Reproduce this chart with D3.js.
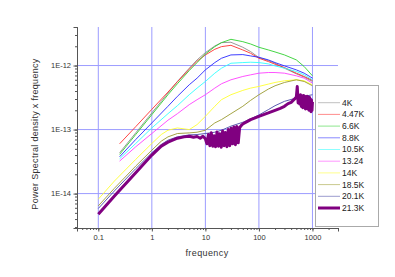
<!DOCTYPE html>
<html>
<head>
<meta charset="utf-8">
<script src="https://cdn.jsdelivr.net/npm/d3@7"></script>
<style>
  body { margin: 0; background: #fff; }
  text { font-family: "Liberation Sans", Arial, sans-serif; }
</style>
</head>
<body>
<svg width="395" height="277"></svg>
<script>
// frequency grids (upper group starts at 0.25, lower at 0.1, 21.3K is sampled densely)
var freqA = [0.25, 0.5, 1, 2, 3, 5, 7, 10, 15, 20, 30, 50, 70, 100, 150, 200, 300, 500, 700, 1000];
var freqB = [0.1, 0.2, 0.5, 1, 1.5, 2, 3, 5, 7, 10, 15, 20, 30, 50, 70, 100, 150, 200, 300, 500, 700, 1000];
var freqC = [0.1, 0.2, 0.5, 1, 1.5, 2, 3, 4, 5, 6, 7, 8, 9,
             10, 10.7, 11.4, 12.1, 12.9, 13.7, 14.6, 15.5, 16.5, 17.5, 18.6, 19.8, 21, 22.3, 23.7, 25.2, 26.8, 28.5,
             30.3, 32.2, 34.2, 36.4, 38.7, 41.1, 43.7,
             46.5, 50, 70, 100, 150, 200, 250, 300, 350, 400, 450, 480,
             500, 520, 540, 560, 580, 600, 620, 640, 660, 680, 700, 720, 740, 760, 780, 800, 820, 840, 860, 880,
             900, 920, 940, 960, 980, 1000];

var psd4K   = [4.34e-14, 8.87e-14, 1.82e-13, 3.72e-13, 5.64e-13, 9.09e-13, 1.225e-12, 1.592e-12, 2.02e-12, 2.28e-12,
               2.31e-12, 1.93e-12, 1.651e-12, 1.331e-12, 1.196e-12, 1.087e-12, 9.09e-13, 7.42e-13, 6.59e-13, 5.64e-13];
var psd447K = [5.99e-14, 1.11e-13, 2.07e-13, 3.85e-13, 5.57e-13, 8.77e-13, 1.168e-12, 1.465e-12, 1.794e-12, 1.974e-12,
               2.07e-12, 1.752e-12, 1.555e-12, 1.30e-12, 1.154e-12, 1.049e-12, 9.31e-13, 7.60e-13, 6.75e-13, 5.85e-13];
var psd66K  = [4.09e-14, 8.36e-14, 1.71e-13, 3.50e-13, 5.19e-13, 8.36e-13, 1.113e-12, 1.518e-12, 1.974e-12, 2.28e-12,
               2.57e-12, 2.36e-12, 2.17e-12, 1.93e-12, 1.752e-12, 1.631e-12, 1.465e-12, 1.225e-12, 9.65e-13, 6.91e-13];
var psd88K  = [3.76e-14, 6.99e-14, 1.27e-13, 2.31e-13, 3.30e-13, 5.01e-13, 6.36e-13, 8.56e-13, 1.113e-12, 1.30e-12,
               1.465e-12, 1.483e-12, 1.413e-12, 1.347e-12, 1.225e-12, 1.113e-12, 9.88e-13, 8.56e-13, 7.60e-13, 6.36e-13];
var psd105K = [3.50e-14, 6.06e-14, 1.06e-13, 1.77e-13, 2.36e-13, 3.50e-13, 4.44e-13, 5.64e-13, 7.60e-13, 9.09e-13,
               1.087e-12, 1.113e-12, 1.127e-12, 1.113e-12, 1.061e-12, 9.88e-13, 9.09e-13, 8.07e-13, 7.16e-13, 5.99e-13];
var psd1324 = [3.22e-14, 5.38e-14, 8.67e-14, 1.40e-13, 1.77e-13, 2.45e-13, 2.93e-13, 3.50e-13, 4.44e-13, 5.19e-13,
               5.99e-13, 6.75e-13, 7.16e-13, 7.60e-13, 7.78e-13, 7.78e-13, 7.60e-13, 6.91e-13, 6.36e-13, 5.31e-13];
var psd14K  = [8.17e-15, 1.57e-14, 3.42e-14, 6.06e-14, 8.36e-14, 9.76e-14, 1.06e-13, 1.00e-13, 1.196e-13, 1.61e-13,
               2.31e-13, 2.93e-13, 3.50e-13, 4.09e-13, 4.44e-13, 4.72e-13, 5.13e-13, 5.44e-13, 5.78e-13, 5.99e-13,
               5.78e-13, 5.01e-13];
var psd185K = [6.43e-15, 1.21e-14, 2.69e-14, 4.77e-14, 6.59e-14, 7.69e-14, 8.67e-14, 8.87e-14, 9.09e-14, 9.76e-14,
               1.27e-13, 1.43e-13, 1.77e-13, 2.31e-13, 2.86e-13, 3.50e-13, 4.29e-13, 4.83e-13, 5.44e-13, 5.99e-13,
               5.64e-13, 4.83e-13];
var psd201K = [5.85e-15, 1.10e-14, 2.45e-14, 4.34e-14, 5.85e-14, 6.83e-14, 7.69e-14, 8.26e-14, 8.36e-14, 8.67e-14,
               9.09e-14, 9.76e-14, 1.13e-13, 1.30e-13, 1.47e-13, 1.69e-13, 2.05e-13, 2.36e-13, 2.76e-13, 3.11e-13,
               3.30e-13, 3.50e-13];
var psd213K = [4.77e-15, 9.20e-15, 2.12e-14, 3.99e-14, 5.51e-14, 6.36e-14, 7.33e-14, 7.69e-14, 7.88e-14, 7.60e-14,
               7.78e-14, 7.33e-14, 7.88e-14,
               7.2e-14, 6.0e-14, 8.4e-14, 5.6e-14, 8.9e-14, 5.5e-14, 8.0e-14, 5.4e-14, 9.2e-14, 5.5e-14, 8.6e-14,
               5.3e-14, 9.5e-14, 5.6e-14, 9.0e-14, 5.4e-14, 1.0e-13, 5.6e-14, 1.05e-13, 6.0e-14, 1.1e-13, 5.8e-14,
               1.12e-13, 6.2e-14, 1.08e-13,
               1.15e-13, 1.22e-13, 1.43e-13, 1.61e-13, 1.82e-13, 2.00e-13, 2.15e-13, 2.31e-13, 2.54e-13, 2.66e-13,
               2.93e-13, 3.1e-13,
               3.2e-13, 4.7e-13, 2.6e-13, 3.4e-13, 2.5e-13, 3.5e-13, 2.3e-13, 3.3e-13, 2.2e-13, 3.4e-13, 2.3e-13,
               3.3e-13, 2.1e-13, 3.2e-13, 2.2e-13, 3.3e-13, 2.1e-13, 3.1e-13, 2.0e-13, 3.2e-13, 2.1e-13, 3.0e-13,
               1.9e-13, 2.9e-13, 2.0e-13, 2.7e-13];

var names  = ["4K", "4.47K", "6.6K", "8.8K", "10.5K", "13.24", "14K", "18.5K", "20.1K", "21.3K"];
var colors = ["#8c8c8c", "#ff3030", "#30d030", "#2828ff", "#30ffff", "#ff40ff", "#ffff30", "#9a9a30", "#4848a8", "#800080"];
var yTicks = [1e-14, 1e-13, 1e-12];
var xTicks = [0.1, 1, 10, 100, 1000];

var series = [
  {f: freqA, v: psd4K}, {f: freqA, v: psd447K}, {f: freqA, v: psd66K}, {f: freqA, v: psd88K},
  {f: freqA, v: psd105K}, {f: freqA, v: psd1324}, {f: freqB, v: psd14K}, {f: freqB, v: psd185K},
  {f: freqB, v: psd201K}, {f: freqC, v: psd213K}
];

var svg = d3.select("svg"),
    plotL = 77, plotR = 338, plotT = 27, plotB = 228;

var x = d3.scaleLog().domain([0.04, 3000]).range([plotL, plotR]);
var y = d3.scaleLog().domain([2.9e-15, 4e-12]).range([plotB, plotT]);

svg.append("rect").attr("width", 395).attr("height", 277).attr("fill", "#fff");

// grid
svg.append("g").selectAll("line").data(xTicks).enter().append("line")
    .attr("x1", function(d) { return x(d); }).attr("x2", function(d) { return x(d); })
    .attr("y1", plotT).attr("y2", plotB)
    .attr("stroke", "#9c9cff").attr("stroke-width", 1);
svg.append("g").selectAll("line").data(yTicks).enter().append("line")
    .attr("y1", function(d) { return y(d); }).attr("y2", function(d) { return y(d); })
    .attr("x1", plotL).attr("x2", plotR)
    .attr("stroke", "#9c9cff").attr("stroke-width", 1);

// minor ticks
function minors(lo, hi) {
  var out = [];
  for (var e = Math.floor(Math.log10(lo)); e <= Math.ceil(Math.log10(hi)); e++)
    for (var k = 1; k < 10; k++) {
      var t = k * Math.pow(10, e);
      if (t >= lo && t <= hi) out.push(t);
    }
  return out;
}

var xMinor = svg.append("g").attr("transform", "translate(0," + plotB + ")")
    .call(d3.axisBottom(x).tickValues(minors(0.04, 3000)).tickSize(2).tickFormat(""));
var xMajor = svg.append("g").attr("transform", "translate(0," + plotB + ")")
    .call(d3.axisBottom(x).tickValues(xTicks).tickSize(3.5).tickPadding(3)
      .tickFormat(function(d) { return d3.format("~g")(d); }));
var yMinor = svg.append("g").attr("transform", "translate(" + plotL + ",0)")
    .call(d3.axisLeft(y).tickValues(minors(2.9e-15, 4e-12)).tickSize(2).tickFormat(""));
var yMajor = svg.append("g").attr("transform", "translate(" + plotL + ",0)")
    .call(d3.axisLeft(y).tickValues(yTicks).tickSize(3.5).tickPadding(2.5)
      .tickFormat(function(d) { return "1E" + Math.round(Math.log10(d)); }));

[xMinor, xMajor, yMinor, yMajor].forEach(function(g) {
  g.selectAll("path, line").attr("stroke", "#555");
  g.selectAll("text").attr("fill", "#333").style("font-size", "7.5px")
    .style("font-family", "'Liberation Sans', Arial, sans-serif");
});

// curves
svg.append("clipPath").attr("id", "clip").append("rect")
    .attr("x", plotL).attr("y", plotT).attr("width", plotR - plotL).attr("height", plotB - plotT);

var line = d3.line().x(function(d) { return x(d[0]); }).y(function(d) { return y(d[1]); });

svg.append("g").attr("clip-path", "url(#clip)").selectAll("path").data(series).enter().append("path")
    .attr("d", function(s) { return line(s.f.map(function(f, i) { return [f, s.v[i]]; })); })
    .attr("fill", "none")
    .attr("stroke", function(s, i) { return colors[i]; })
    .attr("stroke-width", function(s, i) { return i === 9 ? 3 : 0.9; })
    .attr("stroke-linejoin", "round");

// axis titles
svg.append("text").attr("x", 207).attr("y", 256).attr("text-anchor", "middle")
    .style("font-size", "9px").style("letter-spacing", "0.4px").attr("fill", "#333")
    .text("frequency");
svg.append("text").attr("transform", "translate(38,134) rotate(-90)").attr("text-anchor", "middle")
    .style("font-size", "9px").style("letter-spacing", "0.3px").attr("fill", "#333")
    .text("Power Spectral density x frequency");

// legend
var leg = svg.append("g");
leg.append("rect").attr("x", 315.5).attr("y", 85.5).attr("width", 63).attr("height", 141)
    .attr("fill", "#fff").attr("stroke", "#aaa").attr("stroke-width", 1);
var item = leg.selectAll("g.item").data(names).enter().append("g")
    .attr("transform", function(d, i) { return "translate(0," + (102.7 + i * 11.7) + ")"; });
item.append("line").attr("x1", 318).attr("x2", 340).attr("y1", 0).attr("y2", 0)
    .attr("stroke", function(d, i) { return colors[i]; })
    .attr("stroke-opacity", function(d, i) { return i === 9 ? 1 : 0.55; })
    .attr("stroke-width", function(d, i) { return i === 9 ? 3 : 1; });
item.append("text").attr("x", 342).attr("y", 0).attr("dy", "0.35em")
    .style("font-size", "8.5px").attr("fill", "#222")
    .text(function(d) { return d; });
</script>
</body>
</html>
